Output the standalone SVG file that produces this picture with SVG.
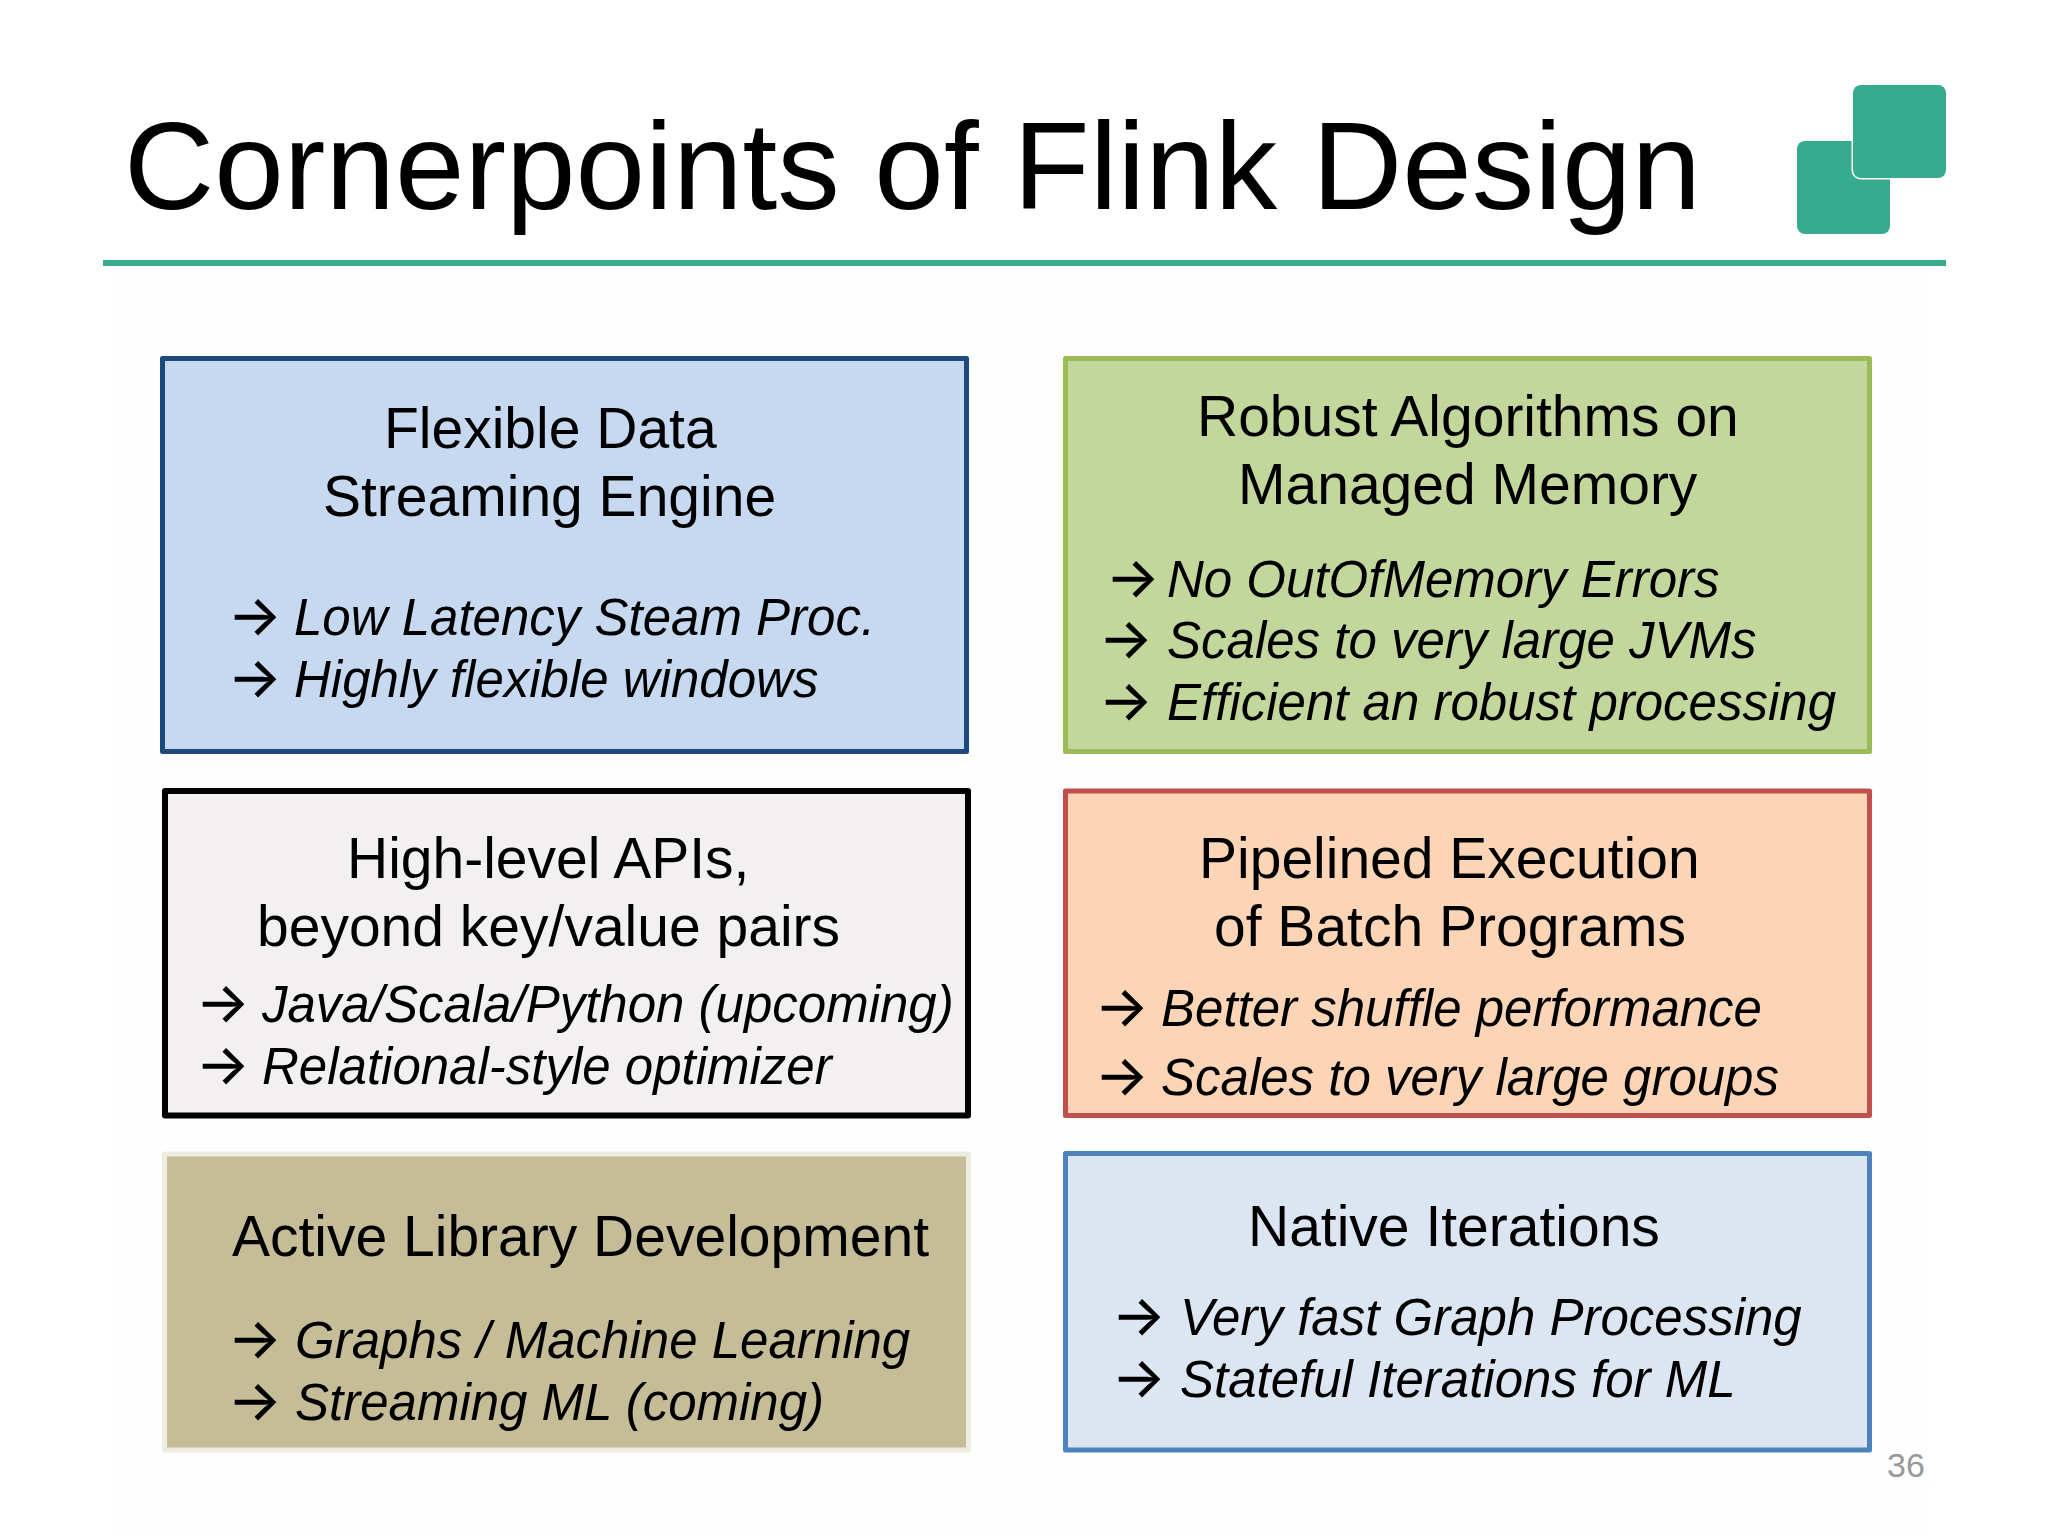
<svg xmlns="http://www.w3.org/2000/svg" width="2048" height="1536" viewBox="0 0 2048 1536">
<style>
text{font-family:"Liberation Sans",Arial,sans-serif;fill:#000}
.t{font-size:125px}
.h{font-size:57px}
.b{font-size:51px;font-style:italic}
.a{font-family:Inter,sans-serif;font-style:normal;font-size:56px;stroke:#000;stroke-width:.6}
.box{stroke-width:5;stroke-linejoin:round}
.mark{fill:#36AB8D}
</style>
<rect width="2048" height="1536" fill="#fff"/>
<rect x="112" y="270" width="1816" height="1266" fill="#fefefe"/>
<g id="title">
<text class="t" x="124" y="209">Cornerpoints of Flink Design</text>
<rect class="mark" x="103" y="260" width="1843" height="6"/>
</g>
<g id="logo">
<rect class="mark" x="1797" y="141" width="93" height="93" rx="8"/>
<rect class="mark" x="1853" y="85" width="93" height="93" rx="8" stroke="#fff" stroke-width="3" paint-order="stroke"/>
</g>
<g id="node-streaming">
<rect class="box" x="162.5" y="358.5" width="804" height="393" fill="#C6D9F0" stroke="#1F497D"/>
<text class="h" x="384" y="448">Flexible Data</text>
<text class="h" x="323" y="516">Streaming Engine</text>
<text class="b" y="635"><tspan class="a" x="228">→</tspan><tspan x="294">Low Latency Steam Proc.</tspan></text>
<text class="b" y="697"><tspan class="a" x="228">→</tspan><tspan x="294">Highly flexible windows</tspan></text>
</g>
<g id="node-memory">
<rect class="box" x="1065.5" y="358.5" width="804" height="393" fill="#C3D69B" stroke="#9BBB59"/>
<text class="h" x="1197" y="436">Robust Algorithms on</text>
<text class="h" x="1238" y="504">Managed Memory</text>
<text class="b" y="597"><tspan class="a" x="1106">→</tspan><tspan x="1167">No OutOfMemory Errors</tspan></text>
<text class="b" y="658"><tspan class="a" x="1099">→</tspan><tspan x="1167">Scales to very large JVMs</tspan></text>
<text class="b" y="720"><tspan class="a" x="1099">→</tspan><tspan x="1167">Efficient an robust processing</tspan></text>
</g>
<g id="node-apis">
<rect class="box" x="165" y="791" width="803" height="324.500" fill="#F2F0F1" stroke="#000" style="stroke-width:6"/>
<text class="h" x="347" y="878">High-level APIs,</text>
<text class="h" x="257" y="946">beyond key/value pairs</text>
<text class="b" y="1022"><tspan class="a" x="196">→</tspan><tspan x="262">Java/Scala/Python (upcoming)</tspan></text>
<text class="b" y="1084"><tspan class="a" x="196">→</tspan><tspan x="262">Relational-style optimizer</tspan></text>
</g>
<g id="node-pipelined">
<rect class="box" x="1065.5" y="791" width="804" height="324.500" fill="#FBD5B5" stroke="#C0504D"/>
<text class="h" x="1199" y="878">Pipelined Execution</text>
<text class="h" x="1214" y="946">of Batch Programs</text>
<text class="b" y="1026"><tspan class="a" x="1095">→</tspan><tspan x="1161">Better shuffle performance</tspan></text>
<text class="b" y="1095"><tspan class="a" x="1095">→</tspan><tspan x="1161">Scales to very large groups</tspan></text>
</g>
<g id="node-library">
<rect class="box" x="164.500" y="1154" width="804" height="296" fill="#C4BD97" stroke="#EEECE1"/>
<text class="h" x="232" y="1256">Active Library Development</text>
<text class="b" y="1358"><tspan class="a" x="228">→</tspan><tspan x="295">Graphs / Machine Learning</tspan></text>
<text class="b" y="1420"><tspan class="a" x="228">→</tspan><tspan x="295">Streaming ML (coming)</tspan></text>
</g>
<g id="node-iterations">
<rect class="box" x="1065.500" y="1153.500" width="804" height="296.500" fill="#DCE6F2" stroke="#4F81BD"/>
<text class="h" x="1248" y="1246">Native Iterations</text>
<text class="b" y="1335"><tspan class="a" x="1112">→</tspan><tspan x="1180">Very fast Graph Processing</tspan></text>
<text class="b" y="1397"><tspan class="a" x="1112">→</tspan><tspan x="1180">Stateful Iterations for ML</tspan></text>
</g>
<text id="page-number" x="1887" y="1477" font-size="34" style="fill:#999">36</text>
</svg>
